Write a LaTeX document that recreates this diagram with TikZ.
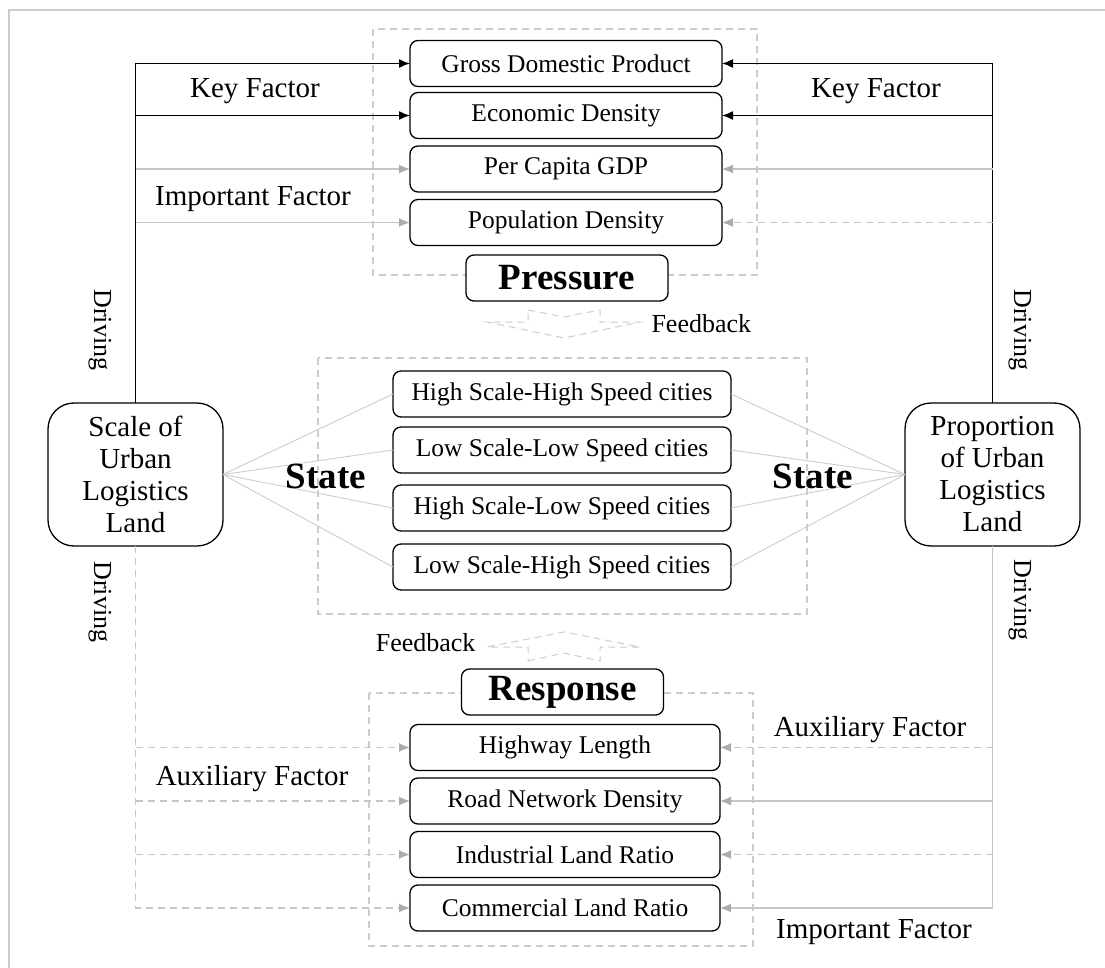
\documentclass[tikz,border=0pt]{standalone}
\usepackage{fontspec}
\setmainfont{Liberation Serif}
\usetikzlibrary{arrows.meta}

\begin{document}
\begin{tikzpicture}[x=1pt,y=-1pt]
		\tikzstyle{case} = [draw,rounded corners=8pt,line width=1.3pt,minimum width=312pt,minimum height=46pt,inner sep=0pt,outer sep=0pt,font=\fontsize{25.5}{28}\selectfont]
		\tikzstyle{ville} = [case,minimum width=338pt]
		\tikzstyle{pole} = [draw,rounded corners=26pt,line width=1.3pt,minimum width=175pt,minimum height=143pt,inner sep=0pt,outer sep=0pt,align=center,font=\fontsize{29}{32}\selectfont]
		\tikzstyle{titre} = [draw,fill=white,rounded corners=8pt,line width=1.3pt,minimum width=202pt,minimum height=46pt,inner sep=0pt,font=\fontsize{37}{40}\selectfont\bfseries]
		\tikzstyle{etiquette} = [font=\fontsize{29}{32}\selectfont]
		\tikzstyle{retour} = [font=\fontsize{26}{30}\selectfont]
		\tikzstyle{cadre} = [draw=gray!40,line width=1.2pt,dash pattern=on 7pt off 5pt]
		\tikzstyle{fleche} = [->,>={Latex[length=11pt,width=9pt]},line width=1.4pt]
		\tikzstyle{fleche grise} = [fleche,draw=gray!45,line width=1.2pt,>={Latex[length=11pt,width=9pt,gray!65]}]
		\tikzstyle{pointille} = [dash pattern=on 7pt off 5pt]
		\tikzstyle{lien} = [draw=gray!40,line width=0.9pt]
		
		\useasboundingbox (0,0) rectangle (1105,968);
		\draw[gray!40,line width=2pt] (9,968) -- (9,10) -- (1105,10);
		
		\draw[cadre] (373,29) rectangle (757,275);
		\draw[cadre] (318,358) rectangle (807,614);
		\draw[cadre] (369,693) rectangle (753,946);
		
		\node[case](gdp) at (566,63.5) {Gross Domestic Product};
		\node[case](densite) at (566,115.5) {Economic Density};
		\node[case](pib) at (566,169) {Per Capita GDP};
		\node[case](pop) at (566,222.5) {Population Density};
		\node[titre](pression) at (567,278) {Pressure};
		
		\node[ville](hh) at (562,394) {High Scale-High Speed cities};
		\node[ville](ll) at (562,450) {Low Scale-Low Speed cities};
		\node[ville](hl) at (562,508) {High Scale-Low Speed cities};
		\node[ville](lh) at (562,567) {Low Scale-High Speed cities};
		
		\node[titre](reponse) at (562.5,692) {Response};
		\node[case,minimum width=310pt](route) at (565,747.5) {Highway Length};
		\node[case,minimum width=310pt](reseau) at (565,801) {Road Network Density};
		\node[case,minimum width=310pt](indus) at (565,854.5) {Industrial Land Ratio};
		\node[case,minimum width=310pt](commerce) at (565,908) {Commercial Land Ratio};
		
		\node[pole](echelle) at (135.5,474.5) {Scale of\\Urban\\Logistics\\Land};
		\node[pole](proportion) at (992.5,474.5) {Proportion\\of Urban\\Logistics\\Land};
		
		\draw[fleche] (echelle.north) |- (gdp.west);
		\draw[fleche] (echelle.north |- densite.west) -- (densite.west);
		\draw[fleche grise] (echelle.north |- pib.west) -- (pib.west);
		\draw[fleche grise] (echelle.north |- pop.west) -- (pop.west);
		\draw[fleche] (proportion.north) |- (gdp.east);
		\draw[fleche] (proportion.north |- densite.east) -- (densite.east);
		\draw[fleche grise] (proportion.north |- pib.east) -- (pib.east);
		\draw[fleche grise,pointille] (proportion.north |- pop.east) -- (pop.east);
		
		\draw[fleche grise,pointille] (echelle.south) |- (commerce.west);
		\draw[fleche grise,pointille] (echelle.south |- route.west) -- (route.west);
		\draw[fleche grise,pointille] (echelle.south |- reseau.west) -- (reseau.west);
		\draw[fleche grise,pointille] (echelle.south |- indus.west) -- (indus.west);
		\draw[fleche grise] (proportion.south) |- (commerce.east);
		\draw[fleche grise,pointille] (proportion.south |- route.east) -- (route.east);
		\draw[fleche grise] (proportion.south |- reseau.east) -- (reseau.east);
		\draw[fleche grise,pointille] (proportion.south |- indus.east) -- (indus.east);
		
		\foreach \v in {hh,ll,hl,lh}{
			\draw[lien] (echelle.east) -- (\v.west);
			\draw[lien] (proportion.west) -- (\v.east);
		}
		
		\draw[cadre,line width=1pt] (528,310) -- (564,317) -- (600,310) -- (600,322) -- (640,322) -- (564,338) -- (487,322) -- (528,322) -- cycle;
		\draw[cadre,line width=1pt] (528,661) -- (564,653) -- (600,661) -- (600,647) -- (640,647) -- (564,632) -- (487,647) -- (528,647) -- cycle;
		\node[retour,anchor=west](fb1) at (648,324) {Feedback};
		\node[retour,anchor=east](fb2) at (479,643) {Feedback};
		
		\node[etiquette,font=\fontsize{37}{40}\selectfont\bfseries](etat1) at (326,476) {State};
		\node[etiquette,font=\fontsize{37}{40}\selectfont\bfseries](etat2) at (813,476) {State};
		
		\node[etiquette](cle1) at (255,91) {Key Factor};
		\node[etiquette](cle2) at (876,91) {Key Factor};
		\node[etiquette](imp1) at (253,199) {Important Factor};
		\node[etiquette](imp2) at (874,932) {Important Factor};
		\node[etiquette](aux1) at (252,779) {Auxiliary Factor};
		\node[etiquette](aux2) at (870,730) {Auxiliary Factor};
		
		\node[retour,rotate=-90](dr1) at (100,330) {Driving};
		\node[retour,rotate=-90](dr2) at (100,602) {Driving};
		\node[retour,rotate=-90](dr3) at (1020,330) {Driving};
		\node[retour,rotate=-90](dr4) at (1020,600) {Driving};
		
		\end{tikzpicture}
\end{document}
